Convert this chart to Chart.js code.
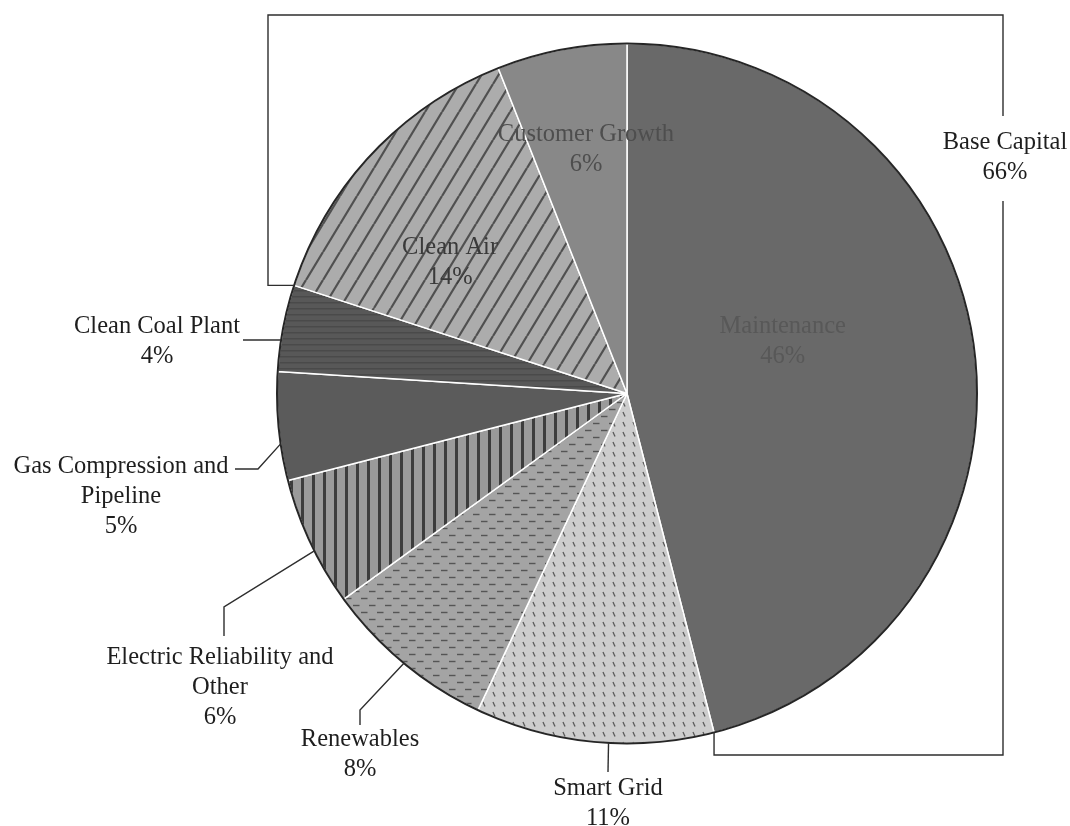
<!DOCTYPE html>
<html>
<head>
<meta charset="utf-8">
<script src="https://cdn.jsdelivr.net/npm/chart.js@4.4.1/dist/chart.umd.min.js"></script>
<style>
  html, body { margin: 0; padding: 0; background: #ffffff; }
  canvas { display: block; }
</style>
</head>
<body>
<canvas id="capex" width="1070" height="826"></canvas>
<script>
// Capital programme split, clockwise from 12 o'clock
const categories = [
  'Maintenance', 'Smart Grid', 'Renewables', 'Electric Reliability and Other',
  'Gas Compression and Pipeline', 'Clean Coal Plant', 'Clean Air', 'Customer Growth'
];
const shares = [46, 11, 8, 6, 5, 4, 14, 6];
const labelLines = [
  ['Maintenance'], ['Smart Grid'], ['Renewables'], ['Electric Reliability and', 'Other'],
  ['Gas Compression and', 'Pipeline'], ['Clean Coal Plant'], ['Clean Air'], ['Customer Growth']
];
// Categories grouped under the bracket
const groupName = 'Base Capital';
const groupMembers = ['Clean Air', 'Customer Growth', 'Maintenance'];

// ---------- fills ----------
function makeTile(w, h, bg, paint) {
  const c = document.createElement('canvas');
  c.width = w; c.height = h;
  const g = c.getContext('2d');
  g.fillStyle = bg;
  g.fillRect(0, 0, w, h);
  if (paint) paint(g, w, h);
  return g.createPattern(c, 'repeat');
}
const fills = {
  'Maintenance': '#696969',
  'Smart Grid': makeTile(10, 10, '#cdcdcd', (g) => {
    g.strokeStyle = '#5a5a5a'; g.lineWidth = 1.3;
    g.beginPath(); g.moveTo(3, 2); g.lineTo(5, 6.5); g.stroke();
  }),
  'Renewables': makeTile(16, 14, '#a4a4a4', (g) => {
    g.strokeStyle = '#555555'; g.lineWidth = 1.4;
    g.beginPath(); g.moveTo(1, 3.5); g.lineTo(7.5, 3.5); g.stroke();
    g.beginPath(); g.moveTo(9, 10.5); g.lineTo(15.5, 10.5); g.stroke();
  }),
  'Electric Reliability and Other': makeTile(11, 11, '#9a9a9a', (g) => {
    g.fillStyle = '#3c3c3c'; g.fillRect(4, 0, 3, 11);
  }),
  'Gas Compression and Pipeline': '#5b5b5b',
  'Clean Coal Plant': makeTile(6, 6, '#585858', (g) => {
    g.fillStyle = '#4a4a4a'; g.fillRect(0, 2, 6, 1.5);
  }),
  'Clean Air': makeTile(17, 28, '#acacac', (g, w, h) => {
    g.strokeStyle = '#505050'; g.lineWidth = 2.2;
    for (const dx of [-w, 0, w]) {
      g.beginPath(); g.moveTo(dx, h); g.lineTo(dx + w, 0); g.stroke();
    }
  }),
  'Customer Growth': '#888888'
};

// ---------- label placement ----------
const SERIF = '"Liberation Serif", "Times New Roman", serif';
const FONT = '24.5px ' + SERIF;
const LINE_H = 30;
// Labels set inside their slices: position within the slice sweep and radius fraction
const insideLabels = {
  'Maintenance':     { along: 0.43, rad: 0.47, color: '#585858' },
  'Clean Air':       { along: 0.37, rad: 0.63, color: '#3a3a3a' },
  'Customer Growth': { along: 0.56, rad: 0.71, color: '#4e4e4e' }
};
// Labels outside the pie, joined by a leader line
const calloutLabels = {
  'Smart Grid':                     { text: [608, 789], along: 0.44, path: [[608, 772]] },
  'Renewables':                     { text: [360, 740], along: 0.50, path: [[360, 725], [360, 710]] },
  'Electric Reliability and Other': { text: [220, 658], along: 0.43, path: [[224, 636], [224, 607]] },
  'Gas Compression and Pipeline':   { text: [121, 467], along: 0.34, path: [[235, 469], [258, 469]] },
  'Clean Coal Plant':               { text: [157, 327], along: 0.36, path: [[243, null]] }
};
const bracket = { left: 268, top: 15, right: 1003, bottom: 755, gapTop: 116, gapBottom: 201,
                  text: [1005, 143] };

function polar(cx, cy, r, a) { return [cx + r * Math.cos(a), cy + r * Math.sin(a)]; }

function drawLines(ctx, lines, x, y, color) {
  ctx.fillStyle = color;
  lines.forEach((t, i) => ctx.fillText(t, x, y + i * LINE_H));
}

const annotate = {
  id: 'annotate',
  afterDatasetsDraw(chart) {
    const ctx = chart.ctx;
    const arcs = chart.getDatasetMeta(0).data;
    const { x: cx, y: cy, outerRadius: R } = arcs[0];

    ctx.save();
    // pie rim
    ctx.beginPath();
    ctx.arc(cx, cy, R, 0, Math.PI * 2);
    ctx.lineWidth = 2;
    ctx.strokeStyle = '#262626';
    ctx.stroke();

    ctx.font = FONT;
    ctx.textAlign = 'center';
    ctx.textBaseline = 'middle';

    categories.forEach((name, i) => {
      const arc = arcs[i];
      const pct = shares[i] + '%';
      const lines = labelLines[i].concat([pct]);
      if (insideLabels[name]) {
        const s = insideLabels[name];
        const a = arc.startAngle + s.along * (arc.endAngle - arc.startAngle);
        const [px, py] = polar(cx, cy, s.rad * R, a);
        drawLines(ctx, lines, px, py - (lines.length - 1) * LINE_H / 2 + 1, s.color);
      } else if (calloutLabels[name]) {
        const s = calloutLabels[name];
        const a = arc.startAngle + s.along * (arc.endAngle - arc.startAngle);
        const edge = polar(cx, cy, R, a);
        ctx.beginPath();
        s.path.forEach((p, k) => {
          const px = p[0], py = p[1] === null ? edge[1] : p[1];
          if (k === 0) ctx.moveTo(px, py); else ctx.lineTo(px, py);
        });
        ctx.lineTo(edge[0], edge[1]);
        ctx.lineWidth = 1.4;
        ctx.strokeStyle = '#2e2e2e';
        ctx.stroke();
        drawLines(ctx, lines, s.text[0], s.text[1], '#1e1e1e');
      }
    });

    // bracket around the grouped slices
    const first = arcs[categories.indexOf('Clean Air')];
    const last = arcs[categories.indexOf('Maintenance')];
    const pStart = polar(cx, cy, R, first.startAngle);
    const pEnd = polar(cx, cy, R, last.endAngle);
    ctx.lineWidth = 1.4;
    ctx.strokeStyle = '#2e2e2e';
    ctx.beginPath();
    ctx.moveTo(pStart[0], pStart[1]);
    ctx.lineTo(bracket.left, pStart[1]);
    ctx.lineTo(bracket.left, bracket.top);
    ctx.lineTo(bracket.right, bracket.top);
    ctx.lineTo(bracket.right, bracket.gapTop);
    ctx.moveTo(bracket.right, bracket.gapBottom);
    ctx.lineTo(bracket.right, bracket.bottom);
    ctx.lineTo(pEnd[0], bracket.bottom);
    ctx.lineTo(pEnd[0], pEnd[1]);
    ctx.stroke();

    const groupTotal = groupMembers.reduce((s, n) => s + shares[categories.indexOf(n)], 0);
    drawLines(ctx, [groupName, groupTotal + '%'], bracket.text[0], bracket.text[1], '#1e1e1e');
    ctx.restore();
  }
};

new Chart(document.getElementById('capex'), {
  type: 'pie',
  data: {
    labels: categories,
    datasets: [{
      data: shares,
      backgroundColor: categories.map(n => fills[n]),
      borderColor: '#ffffff',
      borderWidth: 1.5
    }]
  },
  options: {
    responsive: false,
    animation: false,
    radius: 350,
    layout: { padding: { left: 277, right: 93, top: 44, bottom: 83 } },
    plugins: { legend: { display: false }, tooltip: { enabled: false } }
  },
  plugins: [annotate]
});
</script>
</body>
</html>
